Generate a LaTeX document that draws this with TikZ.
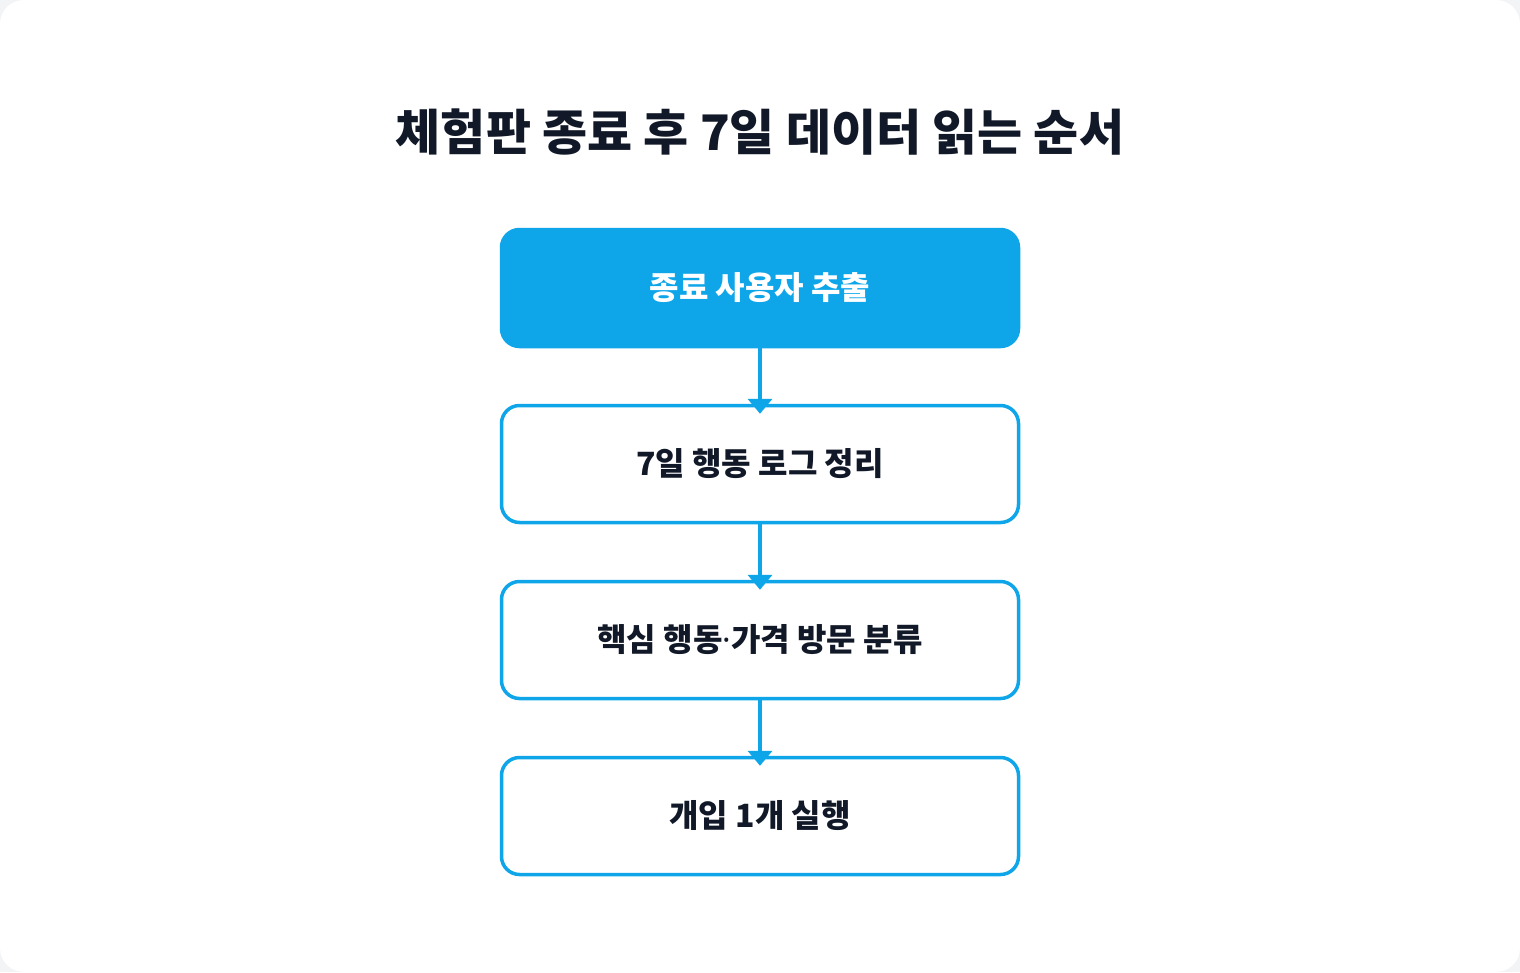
\documentclass[tikz,border=0pt]{standalone}
\usepackage{fontspec}
\setmainfont{Noto Sans CJK KR}
\newfontfamily\latinfont{Noto Sans}
\usetikzlibrary{arrows.meta,positioning}
\definecolor{skyblue}{HTML}{0EA5E9}
\definecolor{inkdark}{HTML}{111827}
\definecolor{pagegray}{HTML}{F3F4F6}

\begin{document}
\begin{tikzpicture}[x=1pt,y=-1pt,>={Triangle[width=24pt,length=15pt]},
    node distance=176pt,line width=3.5pt,
    step node/.style={rectangle,rounded corners=18pt,draw=skyblue,
      minimum width=517pt,minimum height=117pt,text=inkdark,
      font=\fontsize{32pt}{38pt}\selectfont\bfseries},
    first node/.style={step node,fill=skyblue,text=white},
    flow/.style={->,color=skyblue,line width=4pt,shorten >=-10pt}]
    \fill[pagegray] (0,0) rectangle (1520,972);
    \fill[white,rounded corners=24pt] (0,0) rectangle (1520,972);
    \useasboundingbox (0,0) rectangle (1520,972);
    \node[text=inkdark,font=\fontsize{49pt}{58pt}\selectfont\bfseries] (title) at (760,132) {체험판 종료 후 7일 데이터 읽는 순서};
    \node[first node] (1) at (760,288) {종료 사용자 추출};
    \node[step node] (2) [below of=1] {7일 행동 로그 정리};
    \node[step node] (3) [below of=2] {핵심 행동{\latinfont\bfseries ·}가격 방문 분류};
    \node[step node] (4) [below of=3] {개입 1개 실행};
    \path[every edge/.style={draw,flow}]
    (1) edge (2)
    (2) edge (3)
    (3) edge (4);
\end{tikzpicture}
\end{document}
